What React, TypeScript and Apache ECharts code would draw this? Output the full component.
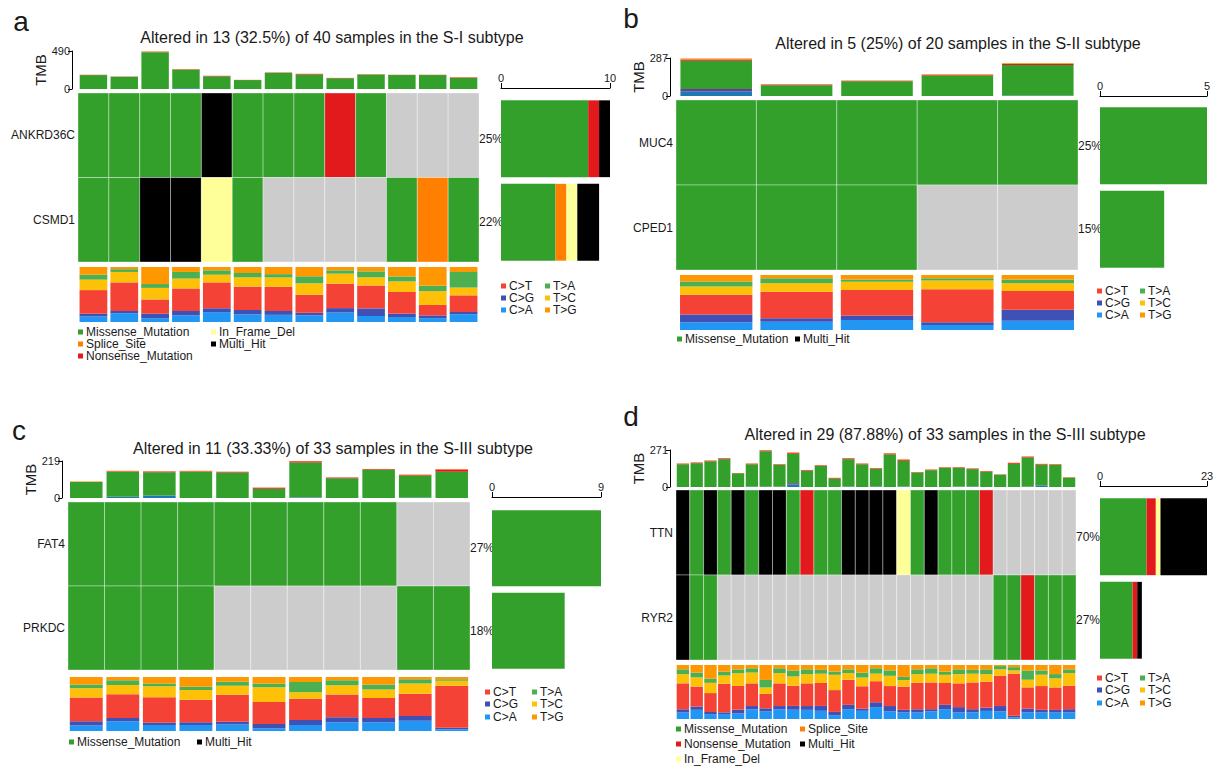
import React, { useEffect, useRef } from 'react';
import * as echarts from 'echarts';

const FONT = "'Liberation Sans', Arial, Helvetica, sans-serif";
const TXT = '#1a1a1a';

// variant codes
const M = 'Missense_Mutation';
const S = 'Splice_Site';
const N = 'Nonsense_Mutation';
const I = 'In_Frame_Del';
const X = 'Multi_Hit';
const _ = '';

const VARIANTS = [M, S, N, I, X];
const VARIANT_COLORS: Record<string, string> = {
  Missense_Mutation: '#33A02C',
  Splice_Site: '#FF7F00',
  Nonsense_Mutation: '#E31A1C',
  In_Frame_Del: '#FFFF99',
  Multi_Hit: '#000000',
  Frame_Shift_Del: '#1F78B4',
  Frame_Shift_Ins: '#6A3D9A',
};
const NONE_COLOR = '#CCCCCC';
const TMB_CLASSES = ['Frame_Shift_Del', 'Frame_Shift_Ins', 'Missense_Mutation', 'Nonsense_Mutation', 'Splice_Site'];

const TITV_CLASSES = ['C>A', 'C>G', 'C>T', 'T>C', 'T>A', 'T>G'];
const TITV_COLORS: Record<string, string> = {
  'C>A': '#2196F3', 'C>G': '#3F51B5', 'C>T': '#F44336', 'T>C': '#FFC107', 'T>A': '#4CAF50', 'T>G': '#FF9800',
};
const TITV_LEGEND = [['C>T', 'C>G', 'C>A'], ['T>A', 'T>C', 'T>G']];

// ---------------- Panel a ----------------
const titleA = 'Altered in 13 (32.5%) of 40 samples in the S-I subtype';
const genesA = ['ANKRD36C', 'CSMD1'];
const pctA = ['25%', '22%'];
const matrixA = [
  [M, M, M, M, X, M, M, M, N, M, _, _, _],
  [M, M, X, X, I, M, _, _, _, _, M, S, M],
];
const tmbMaxA = 490;
const altMaxA = 10;
const tmbMisA = [179, 158, 475, 239, 163, 115, 208, 187, 138, 186, 180, 180, 143];
const tmbNonA = [3, 2, 5, 5, 6, 2, 4, 8, 4, 3, 2, 2, 6];
const tmbSplA = [2, 2, 5, 4, 2, 1, 2, 2, 2, 3, 2, 2, 4];
const tmbFsdA = [0, 0, 0, 10, 0, 0, 0, 0, 0, 0, 0, 0, 0];
const tmbFsiA = [0, 0, 0, 0, 0, 0, 0, 0, 0, 0, 0, 0, 0];
const titvA: Record<string, number[]> = {
  'C>A': [10, 16, 7, 12, 18, 14, 13, 12, 17, 11, 9, 7, 14],
  'C>G': [5, 4, 8, 8, 7, 8, 7, 5, 8, 14, 6, 5, 4],
  'C>T': [43, 52, 26, 41, 47, 43, 44, 33, 44, 42, 39, 19, 30],
  'T>C': [19, 19, 21, 18, 14, 17, 17, 21, 18, 15, 19, 25, 14],
  'T>A': [9, 5, 7, 12, 8, 8, 6, 13, 6, 11, 9, 10, 28],
  'T>G': [14, 4, 31, 9, 6, 11, 13, 17, 6, 8, 17, 34, 9],
};
const legendVarA = [[M, S, N], [I, X]];

// ---------------- Panel b ----------------
const titleB = 'Altered in 5 (25%) of 20 samples in the S-II subtype';
const genesB = ['MUC4', 'CPED1'];
const pctB = ['25%', '15%'];
const matrixB = [
  [M, M, M, M, M],
  [M, M, M, _, _],
];
const tmbMaxB = 287;
const altMaxB = 5;
const tmbMisB = [213, 82, 112, 155, 230];
const tmbNonB = [10, 4, 4, 6, 8];
const tmbSplB = [8, 2, 2, 3, 5];
const tmbFsdB = [35, 0, 0, 0, 4];
const tmbFsiB = [18, 0, 0, 0, 0];
const titvB: Record<string, number[]> = {
  'C>A': [14, 15, 18, 9, 17],
  'C>G': [14, 6, 8, 5, 20],
  'C>T': [36, 48, 46, 60, 34],
  'T>C': [15, 15, 15, 16, 14],
  'T>A': [9, 9, 4, 4, 7],
  'T>G': [12, 6, 8, 6, 8],
};
const legendVarB = [[M], [X]];

// ---------------- Panel c ----------------
const titleC = 'Altered in 11 (33.33%) of 33 samples in the S-III subtype';
const genesC = ['FAT4', 'PRKDC'];
const pctC = ['27%', '18%'];
const matrixC = [
  [M, M, M, M, M, M, M, M, M, _, _],
  [M, M, M, M, _, _, _, _, _, M, M],
];
const tmbMaxC = 219;
const altMaxC = 9;
const tmbMisC = [94, 147, 138, 155, 151, 55, 205, 117, 166, 130, 155];
const tmbNonC = [1, 4, 4, 3, 4, 5, 8, 5, 4, 3, 13];
const tmbSplC = [2, 2, 2, 3, 0, 2, 2, 0, 2, 3, 4];
const tmbFsdC = [0, 8, 15, 0, 0, 0, 3, 0, 0, 3, 0];
const tmbFsiC = [0, 0, 0, 0, 0, 0, 2, 0, 0, 0, 0];
const titvC: Record<string, number[]> = {
  'C>A': [10, 18, 11, 11, 12, 5, 11, 16, 16, 19, 3],
  'C>G': [8, 6, 4, 5, 5, 8, 9, 9, 8, 9, 3],
  'C>T': [44, 44, 47, 42, 50, 40, 39, 42, 37, 41, 77],
  'T>C': [17, 17, 20, 18, 17, 27, 12, 17, 16, 19, 9],
  'T>A': [7, 9, 5, 6, 7, 7, 19, 9, 9, 8, 3],
  'T>G': [14, 6, 12, 18, 9, 12, 9, 6, 14, 4, 4],
};
const legendVarC = [[M], [X]];

// ---------------- Panel d ----------------
const titleD = 'Altered in 29 (87.88%) of 33 samples in the S-III subtype';
const genesD = ['TTN', 'RYR2'];
const pctD = ['70%', '27%'];
const matrixD = [
  [X, M, X, M, X, M, X, X, M, N, M, M, X, X, X, X, I, M, X, M, M, M, N, _, _, _, _, _, _],
  [X, M, M, _, _, _, _, _, _, _, _, _, _, _, _, _, _, _, _, _, _, _, _, M, M, N, M, M, M],
];
const tmbMaxD = 271;
const altMaxD = 23;
const tmbMisD = [166, 174, 188, 204, 100, 162, 260, 159, 216, 118, 155, 62, 200, 166, 128, 239, 188, 106, 123, 141, 137, 127, 110, 90, 169, 213, 150, 162, 67];
const tmbNonD = [5, 5, 5, 6, 2, 5, 6, 4, 6, 5, 4, 4, 6, 5, 5, 6, 6, 3, 4, 3, 4, 4, 5, 2, 6, 6, 5, 4, 3];
const tmbSplD = [2, 2, 2, 2, 1, 2, 3, 2, 4, 2, 2, 2, 2, 2, 2, 4, 6, 1, 2, 2, 2, 2, 2, 1, 3, 3, 3, 2, 2];
const tmbFsdD = [0, 0, 0, 0, 0, 4, 2, 3, 18, 0, 0, 0, 4, 0, 4, 0, 3, 0, 0, 0, 3, 4, 0, 0, 0, 3, 12, 0, 0];
const tmbFsiD = [0, 0, 0, 0, 0, 0, 0, 0, 10, 0, 0, 0, 0, 0, 0, 0, 0, 0, 0, 0, 0, 0, 0, 0, 0, 0, 0, 0, 0];
const titvD: Record<string, number[]> = {
  'C>A': [12, 17, 9, 9, 10, 18, 14, 18, 17, 17, 15, 7, 18, 15, 22, 14, 12, 12, 14, 18, 12, 12, 15, 14, 3, 12, 12, 12, 12],
  'C>G': [6, 6, 4, 3, 7, 6, 6, 6, 7, 7, 9, 6, 8, 4, 9, 10, 5, 6, 4, 8, 10, 6, 6, 10, 3, 7, 5, 5, 6],
  'C>T': [48, 37, 35, 52, 43, 42, 27, 42, 37, 42, 42, 40, 46, 41, 39, 37, 43, 49, 49, 40, 44, 49, 48, 56, 78, 39, 44, 42, 43],
  'T>C': [17, 17, 19, 15, 23, 20, 12, 19, 17, 17, 17, 28, 12, 16, 14, 19, 12, 16, 16, 15, 17, 16, 14, 12, 6, 14, 21, 17, 23],
  'T>A': [9, 9, 8, 7, 7, 8, 14, 9, 11, 9, 7, 6, 7, 9, 10, 10, 6, 9, 10, 6, 9, 7, 9, 6, 6, 17, 8, 8, 7],
  'T>G': [8, 14, 25, 12, 8, 6, 28, 6, 10, 8, 9, 12, 8, 14, 6, 10, 22, 8, 6, 12, 8, 9, 8, 2, 4, 10, 10, 17, 8],
};
const legendVarD = [[M, N, I], [S, X]];

type Layout = {
  letter: number[]; title: number[];
  tmb: number[]; mat: number[]; right: number[]; rightOffset: number; titv: number[];
  titvCols: number[]; titvRows: number[]; varCols: number[]; varRows: number[];
};

const PANELS = [
  {
    letter: 'a', title: titleA, genes: genesA, pct: pctA, matrix: matrixA, tmbMax: tmbMaxA, altMax: altMaxA,
    tmb: [tmbFsdA, tmbFsiA, tmbMisA, tmbNonA, tmbSplA], titv: titvA, varLegend: legendVarA,
    layout: {
      letter: [21, 21], title: [332, 37],
      tmb: [78, 51, 401, 38], mat: [78, 93, 401, 169], right: [501, 97, 109, 167], rightOffset: 9,
      titv: [78, 267, 401, 55], titvCols: [501, 545], titvRows: [286, 298, 310],
      varCols: [78, 211], varRows: [332, 344, 356],
    } as Layout,
  },
  {
    letter: 'b', title: titleB, genes: genesB, pct: pctB, matrix: matrixB, tmbMax: tmbMaxB, altMax: altMaxB,
    tmb: [tmbFsdB, tmbFsiB, tmbMisB, tmbNonB, tmbSplB], titv: titvB, varLegend: legendVarB,
    layout: {
      letter: [631, 18], title: [958, 43],
      tmb: [676, 58, 402, 38], mat: [676, 100, 402, 170], right: [1100, 104, 107, 167], rightOffset: 8,
      titv: [676, 275, 402, 55], titvCols: [1097, 1140], titvRows: [291, 303, 315],
      varCols: [677, 795], varRows: [339],
    } as Layout,
  },
  {
    letter: 'c', title: titleC, genes: genesC, pct: pctC, matrix: matrixC, tmbMax: tmbMaxC, altMax: altMaxC,
    tmb: [tmbFsdC, tmbFsiC, tmbMisC, tmbNonC, tmbSplC], titv: titvC, varLegend: legendVarC,
    layout: {
      letter: [19, 430], title: [333, 448],
      tmb: [68, 461, 402, 37], mat: [68, 502, 402, 168], right: [492, 507, 109, 165], rightOffset: 10,
      titv: [68, 677, 402, 54], titvCols: [485, 532], titvRows: [692, 704, 717],
      varCols: [69, 197], varRows: [742],
    } as Layout,
  },
  {
    letter: 'd', title: titleD, genes: genesD, pct: pctD, matrix: matrixD, tmbMax: tmbMaxD, altMax: altMaxD,
    tmb: [tmbFsdD, tmbFsiD, tmbMisD, tmbNonD, tmbSplD], titv: titvD, varLegend: legendVarD,
    layout: {
      letter: [631, 416], title: [945, 434],
      tmb: [676, 450, 400, 37], mat: [676, 490, 400, 170], right: [1100, 495, 107, 167], rightOffset: 9,
      titv: [676, 665, 400, 54], titvCols: [1097, 1140], titvRows: [678, 690, 703],
      varCols: [676, 800], varRows: [729, 744, 759],
    } as Layout,
  },
];

function textEl(x: number, y: number, text: string, fontSize: number, align = 'left') {
  return {
    type: 'text', x, y, silent: true,
    style: {
      text, fontSize, fontFamily: FONT, fill: TXT,
      align, verticalAlign: 'middle', textAlign: align, textVerticalAlign: 'middle',
    },
  };
}

function legendItem(x: number, y: number, name: string, color: string, fontSize: number) {
  return [
    { type: 'rect', silent: true, shape: { x, y: y - 2.5, width: 5, height: 5 }, style: { fill: color } },
    textEl(x + 8, y, name, fontSize),
  ];
}

function buildOption() {
  const grid: any[] = [];
  const xAxis: any[] = [];
  const yAxis: any[] = [];
  const series: any[] = [];
  const elements: any[] = [];

  PANELS.forEach((P, pi) => {
    const L = P.layout;
    const samples = P.matrix[0].map((__, i) => 'S' + (i + 1));
    const g = grid.length;
    const gTmb = g, gMat = g + 1, gRight = g + 2, gTitv = g + 3;
    const box = (b: number[]) => ({ left: b[0], top: b[1], width: b[2], height: b[3] });
    grid.push(box(L.tmb), box(L.mat), box(L.right), box(L.titv));

    // TMB
    xAxis.push({ type: 'category', gridIndex: gTmb, data: samples, show: false });
    yAxis.push({
      type: 'value', gridIndex: gTmb, min: 0, max: P.tmbMax, interval: P.tmbMax, offset: 6,
      axisLine: { show: true, lineStyle: { color: '#000', width: 1 } },
      axisTick: { show: true, length: 4, lineStyle: { color: '#000' } },
      axisLabel: { fontSize: 11, color: TXT, fontFamily: FONT, margin: 2 },
      splitLine: { show: false },
      name: 'TMB', nameLocation: 'middle', nameGap: 20,
      nameTextStyle: { fontSize: 15, color: TXT, fontFamily: FONT },
    });
    TMB_CLASSES.forEach((cls, k) => {
      series.push({
        type: 'bar', name: cls, xAxisIndex: gTmb, yAxisIndex: gTmb, stack: 'tmb' + pi,
        data: P.tmb[k], barCategoryGap: '11%', itemStyle: { color: VARIANT_COLORS[cls] },
        silent: true,
      });
    });

    // matrix
    xAxis.push({ type: 'category', gridIndex: gMat, data: samples, show: false });
    yAxis.push({
      type: 'category', gridIndex: gMat, data: P.genes, inverse: true,
      axisLine: { show: false }, axisTick: { show: false }, splitLine: { show: false },
      axisLabel: { fontSize: 12, color: TXT, fontFamily: FONT, margin: 3, align: 'right' },
    });
    const cells: number[][] = [];
    P.matrix.forEach((row, r) => row.forEach((v, c) => cells.push([c, r, v ? VARIANTS.indexOf(v) : -1])));
    series.push({
      type: 'custom', xAxisIndex: gMat, yAxisIndex: gMat, data: cells, encode: { x: 0, y: 1 }, silent: true,
      renderItem: (params: any, api: any) => {
        const p = api.coord([api.value(0), api.value(1)]);
        const s = api.size([1, 1]);
        const t = api.value(2);
        return {
          type: 'rect',
          shape: { x: p[0] - s[0] / 2, y: p[1] - s[1] / 2, width: s[0], height: s[1] },
          style: { fill: t < 0 ? NONE_COLOR : VARIANT_COLORS[VARIANTS[t]], stroke: 'rgba(255,255,255,0.35)', lineWidth: 1 },
        };
      },
    });

    // right bars (counts per gene)
    const pctGap = L.right[0] - (L.mat[0] + L.mat[2]);
    xAxis.push({
      type: 'value', gridIndex: gRight, position: 'top', min: 0, max: P.altMax, interval: P.altMax,
      offset: L.rightOffset,
      axisLine: { show: true, lineStyle: { color: '#000', width: 1 } },
      axisTick: { show: true, length: 5, lineStyle: { color: '#000' } },
      axisLabel: { fontSize: 11, color: TXT, fontFamily: FONT, margin: 5 },
      splitLine: { show: false },
    });
    yAxis.push({
      type: 'category', gridIndex: gRight, data: P.genes, inverse: true,
      axisLine: { show: false }, axisTick: { show: false }, splitLine: { show: false },
      axisLabel: {
        fontSize: 12, color: TXT, fontFamily: FONT, align: 'left', margin: pctGap,
        formatter: (_v: string, i: number) => P.pct[i],
      },
    });
    VARIANTS.forEach((v) => {
      series.push({
        type: 'bar', name: v, xAxisIndex: gRight, yAxisIndex: gRight, stack: 'alt' + pi,
        data: P.matrix.map((row) => row.filter((x) => x === v).length),
        barCategoryGap: '8%', itemStyle: { color: VARIANT_COLORS[v] }, silent: true,
      });
    });

    // Ti/Tv proportions
    xAxis.push({ type: 'category', gridIndex: gTitv, data: samples, show: false });
    yAxis.push({ type: 'value', gridIndex: gTitv, min: 0, max: 100, show: false, splitLine: { show: false } });
    const totals = samples.map((__, i) => TITV_CLASSES.reduce((a, c) => a + P.titv[c][i], 0));
    TITV_CLASSES.forEach((cls) => {
      series.push({
        type: 'bar', name: cls, xAxisIndex: gTitv, yAxisIndex: gTitv, stack: 'titv' + pi,
        data: P.titv[cls].map((v, i) => (v / totals[i]) * 100),
        barCategoryGap: '10%', itemStyle: { color: TITV_COLORS[cls] }, silent: true,
      });
    });

    // texts and legends
    elements.push(textEl(L.letter[0], L.letter[1], P.letter, 28, 'center'));
    elements.push(textEl(L.title[0], L.title[1], P.title, 16, 'center'));
    TITV_LEGEND.forEach((col, ci) => col.forEach((name, ri) => {
      elements.push(...legendItem(L.titvCols[ci], L.titvRows[ri], name, TITV_COLORS[name], 12));
    }));
    P.varLegend.forEach((col, ci) => col.forEach((name, ri) => {
      elements.push(...legendItem(L.varCols[ci], L.varRows[ri], name, VARIANT_COLORS[name], 12));
    }));
  });

  return {
    animation: false,
    backgroundColor: '#ffffff',
    textStyle: { fontFamily: FONT },
    grid, xAxis, yAxis, series,
    graphic: { elements },
  };
}

export default function App() {
  const ref = useRef<HTMLDivElement>(null);
  useEffect(() => {
    if (!ref.current) return;
    const chart = echarts.init(ref.current, undefined, { renderer: 'svg' });
    chart.setOption(buildOption() as any);
    return () => chart.dispose();
  }, []);
  return (
    <div
      ref={ref}
      style={{ position: 'absolute', left: 0, top: 0, width: 1220, height: 767, background: '#fff' }}
    />
  );
}
